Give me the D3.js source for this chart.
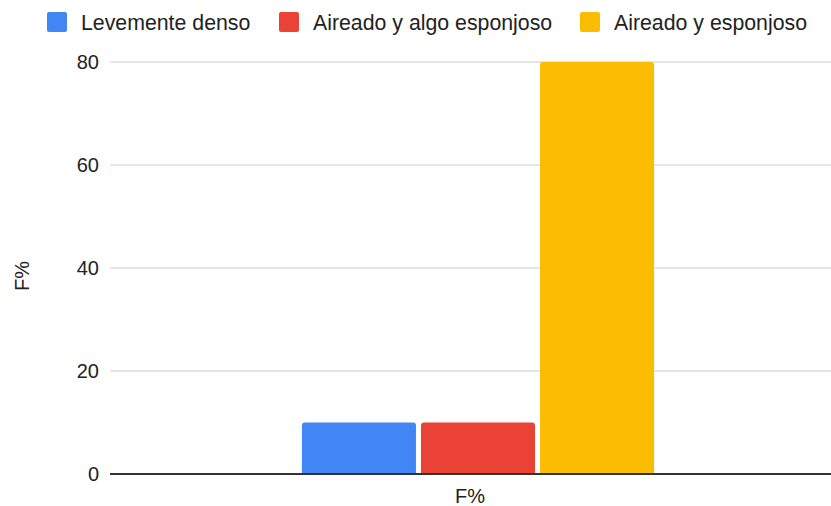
<!DOCTYPE html>
<html>
<head>
<meta charset="utf-8">
<script src="https://cdn.jsdelivr.net/npm/d3@7"></script>
<style>
  body { margin: 0; background: #fff; }
  svg { display: block; font-family: "Liberation Sans", Arial, sans-serif; }
</style>
</head>
<body>
<div id="chart"></div>
<script>
// data
const categories = ["F%"];
const seriesNames = ["Levemente denso", "Aireado y algo esponjoso", "Aireado y esponjoso"];
const seriesValues = [10, 10, 80];
const colors = ["#4285f4", "#ea4335", "#fbbc04"];
const yTicks = [0, 20, 40, 60, 80];

const width = 831;
const height = 506;
const margin = { top: 62, right: -15, bottom: 32, left: 110 };

const svg = d3.select("#chart").append("svg")
  .attr("width", width)
  .attr("height", height);

const y = d3.scaleLinear()
  .domain([0, 80])
  .range([height - margin.bottom, margin.top]);

const x0 = d3.scaleBand()
  .domain(categories)
  .range([margin.left, width - margin.right])
  .paddingInner(0)
  .paddingOuter(0.545);

const x1 = d3.scaleBand()
  .domain(seriesNames)
  .range([0, x0.bandwidth()])
  .paddingInner(0.042);

// gridlines
svg.append("g")
  .selectAll("line")
  .data(yTicks.filter(d => d !== 0))
  .join("line")
  .attr("x1", margin.left)
  .attr("x2", width)
  .attr("y1", d => y(d))
  .attr("y2", d => y(d))
  .attr("stroke", "#cccccc")
  .attr("stroke-width", 1);

// y tick labels
svg.append("g")
  .selectAll("text")
  .data(yTicks)
  .join("text")
  .attr("x", margin.left - 11)
  .attr("y", d => y(d))
  .attr("dy", "0.36em")
  .attr("text-anchor", "end")
  .attr("font-size", 20)
  .attr("fill", "#222")
  .text(d => d);

// bars
const bars = seriesNames.map((name, i) => ({ cat: categories[0], name, value: seriesValues[i], color: colors[i] }));
const r = 3;
svg.append("g")
  .selectAll("path")
  .data(bars)
  .join("path")
  .attr("fill", d => d.color)
  .attr("d", d => {
    const bx = x0(d.cat) + x1(d.name);
    const bw = x1.bandwidth();
    const top = y(d.value);
    const bottom = y(0);
    return `M${bx},${bottom} L${bx},${top + r} Q${bx},${top} ${bx + r},${top}
            L${bx + bw - r},${top} Q${bx + bw},${top} ${bx + bw},${top + r} L${bx + bw},${bottom} Z`;
  });

// zero line
svg.append("line")
  .attr("x1", margin.left)
  .attr("x2", width)
  .attr("y1", y(0))
  .attr("y2", y(0))
  .attr("stroke", "#333")
  .attr("stroke-width", 2);

// x label
svg.append("text")
  .attr("x", 470)
  .attr("y", y(0) + 29)
  .attr("text-anchor", "middle")
  .attr("font-size", 20)
  .attr("fill", "#222")
  .text(categories[0]);

// y axis title
svg.append("text")
  .attr("transform", `translate(29, 276) rotate(-90)`)
  .attr("text-anchor", "middle")
  .attr("font-size", 20)
  .attr("fill", "#222")
  .text("F%");

// legend
const legendX = [47, 279, 580];
const legend = svg.append("g");
seriesNames.forEach((name, i) => {
  const g = legend.append("g").attr("transform", `translate(${legendX[i]}, 12)`);
  g.append("rect")
    .attr("width", 20)
    .attr("height", 20)
    .attr("rx", 2)
    .attr("fill", colors[i]);
  g.append("text")
    .attr("x", 34)
    .attr("y", 10)
    .attr("dy", "0.36em")
    .attr("font-size", 21.3)
    .attr("fill", "#222")
    .text(name);
});
</script>
</body>
</html>
